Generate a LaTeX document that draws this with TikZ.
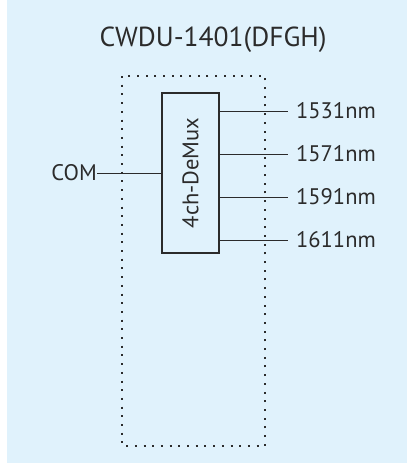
\documentclass[tikz,border=0pt]{standalone}
\usepackage{fontspec}
\setmainfont{PT Sans}
\usetikzlibrary{positioning}
\definecolor{bgblue}{HTML}{E0F2FC}
\definecolor{ink}{HTML}{2B2B2B}

\begin{document}
\begin{tikzpicture}[x=1pt, y=-1pt,
    lbl/.style={font=\fontsize{22.5}{24}\selectfont, text=ink, inner sep=0pt},
    fibre/.style={draw=ink, line width=1pt}]
    % background, with the white strip on the left
    \useasboundingbox (0,0) rectangle (407,463);
    \fill[white] (0,0) rectangle (7,463);
    \fill[bgblue] (7,0) rectangle (407,463);
    % title
    \node[font=\fontsize{27.5}{30}\selectfont, text=ink] (title) at (213,40) {CWDU-1401(DFGH)};
    % module outline
    \draw[ink, line width=1.2pt, dash pattern=on 2pt off 6.7pt] (122,76) rectangle (265,446);
    % demux block
    \node[draw=ink, line width=1.2pt, minimum width=57pt, minimum height=160pt, inner sep=0pt] (demux) at (190.5,173) {};
    \node[lbl, rotate=90] (demuxtxt) at (demux.center) {4ch-DeMux};
    % common port
    \node[lbl, anchor=east] (com) at (97,173) {COM};
    \draw[fibre] (com.east) -- (demux.west);
    % output ports
    \foreach \y/\wl [count=\i] in {111/1531, 154/1571, 197/1591, 240/1611} {
        \coordinate (out\i) at (288,\y);
        \node[lbl, anchor=west] (ch\i) at (296,\y) {\wl nm};
        \draw[fibre] (demux.east |- out\i) -- (out\i);
    }
\end{tikzpicture}
\end{document}
